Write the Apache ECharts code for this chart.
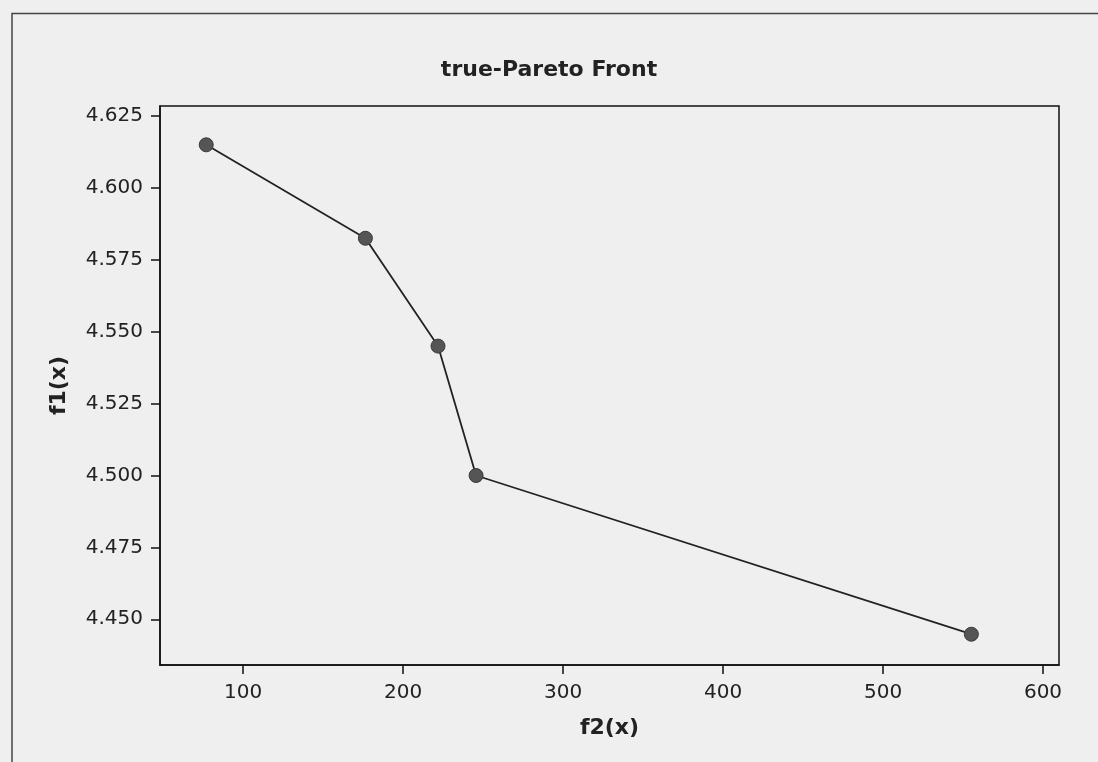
<!DOCTYPE html>
<html>
<head>
<meta charset="utf-8">
<script src="https://cdn.jsdelivr.net/npm/echarts@6/dist/echarts.min.js"></script>
<style>
  html, body { margin: 0; padding: 0; background: #efefef; }
  #chart { width: 1098px; height: 762px; }
</style>
</head>
<body>
<div id="chart"></div>
<script>
// f2(x) on the horizontal axis, f1(x) on the vertical axis
const f2Values = [76.9, 176.4, 221.8, 245.6, 555.2]
const f1Values = [4.615, 4.5825, 4.545, 4.500, 4.4448]
const xTicks = [100, 200, 300, 400, 500, 600]
const yTicks = [4.450, 4.475, 4.500, 4.525, 4.550, 4.575, 4.600, 4.625]

const points = f2Values.map((x, i) => [x, f1Values[i]])

let myChart = echarts.init(document.getElementById('chart'))
myChart.setOption({
  backgroundColor: '#efefef',
  textStyle: {
    fontFamily: 'DejaVu Sans',
    color: '#222'
  },
  title: {
    text: 'true-Pareto Front',
    left: 'center',
    top: 54,
    textStyle: {
      fontFamily: 'DejaVu Sans',
      fontSize: 22,
      fontWeight: 'bold',
      color: '#222'
    }
  },
  // page frame: only the top and left edges show in the picture
  graphic: [
    {
      type: 'polyline',
      shape: { points: [[12, 762], [12, 13.5], [1098, 13.5]] },
      style: { fill: 'none', stroke: '#444', lineWidth: 1.5 },
      silent: true
    }
  ],
  grid: {
    left: 160,
    top: 106,
    right: 39,
    bottom: 97,
    show: true,
    borderColor: '#111',
    borderWidth: 1.5,
    backgroundColor: 'transparent'
  },
  xAxis: {
    type: 'value',
    min: 48,
    max: 610,
    name: 'f2(x)',
    nameLocation: 'middle',
    nameGap: 52,
    nameTextStyle: {
      fontFamily: 'DejaVu Sans',
      fontSize: 22,
      fontWeight: 'bold',
      color: '#222'
    },
    axisLine: { onZero: false, lineStyle: { color: '#111', width: 1.5 } },
    axisTick: {
      show: true,
      length: 9,
      customValues: xTicks,
      lineStyle: { color: '#111', width: 1.5 }
    },
    axisLabel: {
      customValues: xTicks,
      margin: 18,
      fontSize: 20,
      color: '#222'
    },
    splitLine: { show: false }
  },
  yAxis: {
    type: 'value',
    min: 4.4341,
    max: 4.6285,
    name: 'f1(x)',
    nameLocation: 'middle',
    nameRotate: 90,
    nameGap: 90,
    nameTextStyle: {
      fontFamily: 'DejaVu Sans',
      fontSize: 22,
      fontWeight: 'bold',
      color: '#222'
    },
    axisLine: { show: true, onZero: false, lineStyle: { color: '#111', width: 1.5 } },
    axisTick: {
      show: true,
      length: 9,
      customValues: yTicks,
      lineStyle: { color: '#111', width: 1.5 }
    },
    axisLabel: {
      customValues: yTicks,
      margin: 17,
      fontSize: 20,
      color: '#222',
      formatter: function (v) { return v.toFixed(3) }
    },
    splitLine: { show: false }
  },
  series: [
    {
      type: 'line',
      data: points,
      symbol: 'circle',
      symbolSize: 14,
      lineStyle: { color: '#222', width: 1.8 },
      itemStyle: { color: '#555', borderColor: '#3a3a3a', borderWidth: 1 },
      animation: false
    }
  ]
})
</script>
</body>
</html>
